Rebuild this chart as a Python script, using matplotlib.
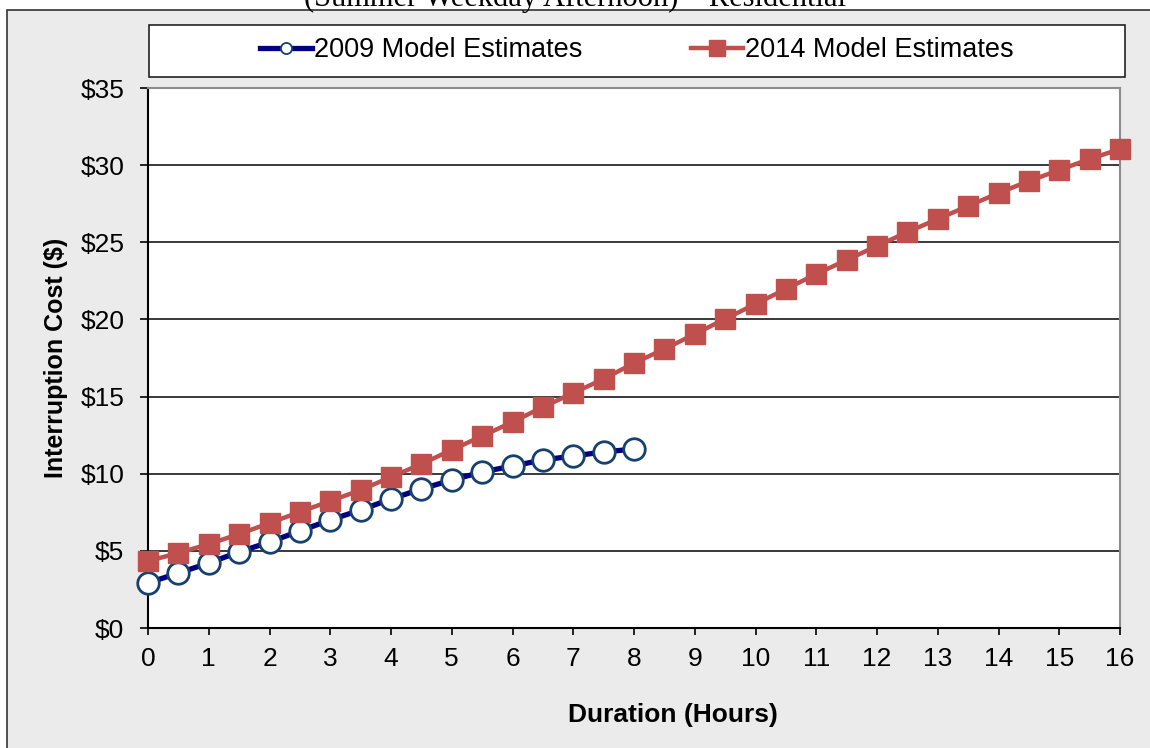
import matplotlib
matplotlib.use("Agg")
import matplotlib.pyplot as plt
from matplotlib.patches import Rectangle
from matplotlib.lines import Line2D

# durations in hours
hours_2009 = [0, 0.5, 1, 1.5, 2, 2.5, 3, 3.5, 4, 4.5, 5, 5.5, 6, 6.5, 7, 7.5, 8]
cost_2009 = [2.92, 3.56, 4.21, 4.93, 5.57, 6.29, 7.00, 7.65, 8.36, 9.01,
             9.59, 10.11, 10.50, 10.89, 11.15, 11.41, 11.60]

hours_2014 = [0, 0.5, 1, 1.5, 2, 2.5, 3, 3.5, 4, 4.5, 5, 5.5, 6, 6.5, 7, 7.5,
              8, 8.5, 9, 9.5, 10, 10.5, 11, 11.5, 12, 12.5, 13, 13.5, 14,
              14.5, 15, 15.5, 16]
cost_2014 = [4.34, 4.86, 5.44, 6.09, 6.80, 7.52, 8.23, 8.94, 9.79, 10.63,
             11.54, 12.44, 13.35, 14.32, 15.23, 16.14, 17.17, 18.08, 19.05,
             20.03, 21.00, 21.97, 22.94, 23.85, 24.76, 25.66, 26.51, 27.35,
             28.19, 28.97, 29.68, 30.40, 31.04]

x_ticks = list(range(0, 17))
y_ticks = [0, 5, 10, 15, 20, 25, 30, 35]
y_labels = ["$0", "$5", "$10", "$15", "$20", "$25", "$30", "$35"]

navy = "#000080"
ring = "#16406e"
red = "#c0504d"

plt.rcParams["font.family"] = ["Liberation Sans", "DejaVu Sans"]

W, H = 1150, 748
fig = plt.figure(figsize=(W / 100, H / 100), dpi=100)
fig.patch.set_facecolor("white")

# grey chart area with dark frame
bg = Rectangle((7 / W, -0.1), 1.1, 1.1 - 10 / H, transform=fig.transFigure,
               facecolor="#ebebeb", edgecolor="#333333", lw=1.2, zorder=-5)
fig.patches.append(bg)

# title, mostly clipped at the top (as in the original)
fig.text(0.5, 1 - 6 / H, "(Summer Weekday Afternoon) \u2013 Residential",
         ha="center", va="baseline", fontsize=22, family="Liberation Serif")

ax = fig.add_axes([148 / W, 1 - 628 / H, (1120 - 148) / W, (628 - 88) / H])
ax.set_facecolor("white")

ax.plot(hours_2009, cost_2009, color=navy, lw=3.8, marker="o", ms=15.5,
        mfc="white", mec=ring, mew=2, clip_on=False, zorder=3)
ax.plot(hours_2014, cost_2014, color=red, lw=3.2, marker="s", ms=14.5,
        mfc=red, mec=red, clip_on=False, zorder=4)

ax.set_xlim(0, 16)
ax.set_ylim(0, 35)
ax.set_xticks(x_ticks)
ax.set_yticks(y_ticks)
ax.set_yticklabels(y_labels)
ax.tick_params(axis="both", labelsize=19, direction="out", width=1.2)
ax.tick_params(axis="y", length=6, pad=11)
ax.tick_params(axis="x", length=5, pad=9)

for y in y_ticks[1:-1]:
    ax.axhline(y, color="#2a2a2a", lw=1.3, zorder=1)

ax.spines["left"].set_color("black")
ax.spines["left"].set_linewidth(1.5)
ax.spines["bottom"].set_color("black")
ax.spines["bottom"].set_linewidth(1.5)
ax.spines["top"].set_color("#8c8c8c")
ax.spines["top"].set_linewidth(1.5)
ax.spines["right"].set_color("#8c8c8c")
ax.spines["right"].set_linewidth(1.5)

ax.set_ylabel("Interruption Cost ($)", fontsize=18, fontweight="bold", labelpad=9)
fig.text(673 / W, 1 - 715 / H, "Duration (Hours)", ha="center", va="center",
         fontsize=19, fontweight="bold")

# legend box
fig.patches.append(Rectangle((149 / W, 1 - 77 / H), (1125 - 149) / W, 52 / H,
                             transform=fig.transFigure, facecolor="white",
                             edgecolor="#222222", lw=1.2, zorder=1))
handles = [
    Line2D([], [], color=navy, lw=3.8, marker="o", ms=8, mfc="white", mec=ring, mew=1.3),
    Line2D([], [], color=red, lw=3.2, marker="s", ms=11, mfc=red, mec=red),
]
leg = fig.legend(handles, ["2009 Model Estimates", "2014 Model Estimates"],
                 loc="center", bbox_to_anchor=(637 / W, 1 - 50 / H), ncol=2,
                 frameon=False, fontsize=19.5, handlelength=1.9,
                 handletextpad=0.1, columnspacing=4.0)
leg.set_zorder(2)

fig.savefig("out.png", dpi=100)
